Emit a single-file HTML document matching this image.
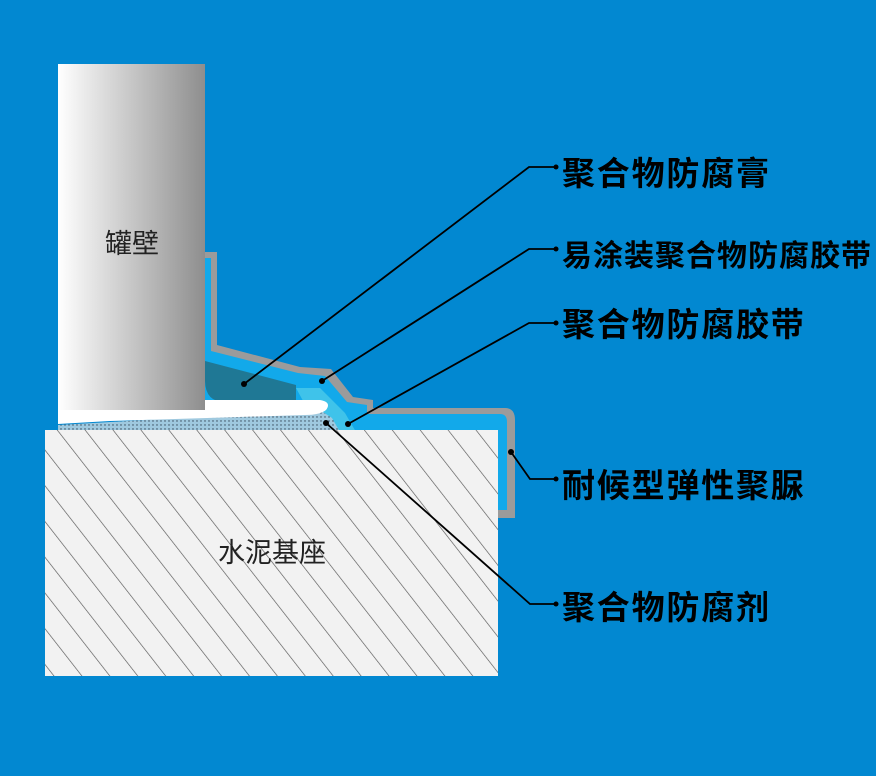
<!DOCTYPE html>
<html><head><meta charset="utf-8"><style>
html,body{margin:0;padding:0;background:#0288d1;}
svg{display:block}
text{font-family:"Liberation Sans","Noto Sans CJK SC",sans-serif;}
</style></head><body>
<svg width="876" height="776" viewBox="0 0 876 776" xmlns="http://www.w3.org/2000/svg">
<defs>
<linearGradient id="wall" x1="0" x2="1" y1="0" y2="0">
<stop offset="0" stop-color="#ffffff"/><stop offset="1" stop-color="#8e8e8e"/>
</linearGradient>
<pattern id="hatch" width="22" height="22" patternUnits="userSpaceOnUse" patternTransform="rotate(-38)">
<rect width="22" height="22" fill="#f2f2f2"/>
<line x1="0" y1="0" x2="0" y2="22" stroke="#555" stroke-width="1.3"/>
</pattern>
<pattern id="dots" width="4" height="4" patternUnits="userSpaceOnUse">
<rect width="4" height="4" fill="#9fc9df"/>
<circle cx="1" cy="1" r="0.7" fill="#345"/>
</pattern>
</defs>
<rect width="876" height="776" fill="#0288d1"/>
<path d="M205,252 H217 V345 L300,367 L331,369 L353,397 L373,400 V408 H505 Q515,408 515,420 V518 H498 V430 H205 Z" fill="#9b9b9b"/>
<path d="M205,258 H211 V351 L298,373 L325,376 L347,402 L367,405 V414 H500 Q507,414 507,422 V510 H498 V430 H205 Z" fill="#12a9ea"/>
<path d="M296,388 L320,388 L345,413 L356,432 L320,432 Z" fill="#3fc3ea"/>
<path d="M205,361 L296,385 V402 H225 Q205,402 205,380 Z" fill="#1f7895"/>
<path d="M58,425 L320,410 L332,418 L340,432 H58 Z" fill="url(#dots)"/>
<path d="M58,400 H320 Q332,402 326,410 Q320,415 305,415 L110,421 L58,424 Z" fill="#ffffff"/>
<rect x="58" y="64" width="147" height="346" fill="url(#wall)"/>
<rect x="45" y="430" width="453" height="246" fill="url(#hatch)"/>
<text x="105" y="253" font-size="27" fill="#222">罐壁</text>
<text x="218" y="562" font-size="27" fill="#222">水泥基座</text>
<g stroke="#000" stroke-width="1.8" fill="none">
<polyline points="244,384 529,167 556,167"/>
<polyline points="322,381 529,249 556,249"/>
<polyline points="348,424 529,323 556,323"/>
<polyline points="511,452 530,479 556,479"/>
<polyline points="326,423 530,604 556,604"/>
</g>
<g fill="#000">
<circle cx="244" cy="384" r="3"/><circle cx="322" cy="381" r="3"/><circle cx="348" cy="424" r="3"/>
<circle cx="511" cy="452" r="3"/><circle cx="326" cy="423" r="3"/>
<circle cx="556" cy="167" r="2.5"/><circle cx="556" cy="249" r="2.5"/><circle cx="556" cy="323" r="2.5"/>
<circle cx="556" cy="479" r="2.5"/><circle cx="556" cy="604" r="2.5"/>
</g>
<g font-weight="bold" fill="#000">
<text x="562" y="185" font-size="33" letter-spacing="1.8">聚合物防腐膏</text>
<text x="562" y="266" font-size="30" letter-spacing="1">易涂装聚合物防腐胶带</text>
<text x="562" y="336" font-size="33" letter-spacing="1.8">聚合物防腐胶带</text>
<text x="562" y="497" font-size="33" letter-spacing="1.8">耐候型弹性聚脲</text>
<text x="562" y="619" font-size="33" letter-spacing="1.8">聚合物防腐剂</text>
</g>
</svg>
</body></html>
